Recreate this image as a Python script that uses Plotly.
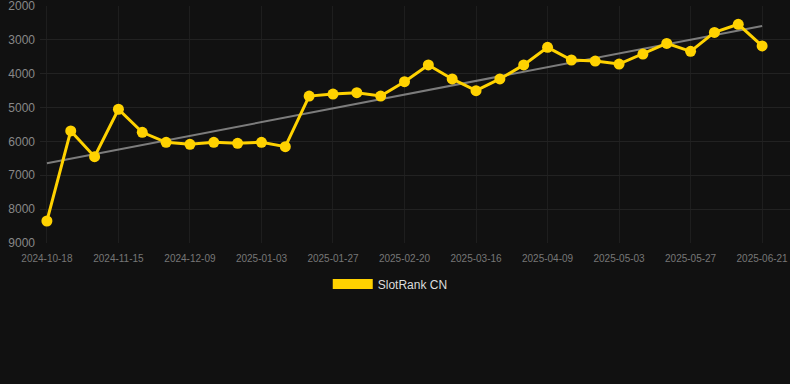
import numpy as np
import plotly.graph_objects as go

dates = ["2024-10-18", "2024-10-27", "2024-11-05", "2024-11-15", "2024-11-23", "2024-12-01",
         "2024-12-09", "2024-12-17", "2024-12-25", "2025-01-03", "2025-01-11", "2025-01-19",
         "2025-01-27", "2025-02-04", "2025-02-12", "2025-02-20", "2025-02-28", "2025-03-08",
         "2025-03-16", "2025-03-24", "2025-04-01", "2025-04-09", "2025-04-17", "2025-04-25",
         "2025-05-03", "2025-05-11", "2025-05-19", "2025-05-27", "2025-06-04", "2025-06-12",
         "2025-06-21"]
rank = [8350, 5690, 6450, 5050, 5730, 6025, 6085, 6025, 6055, 6025, 6155, 4660, 4600, 4560,
        4660, 4235, 3740, 4155, 4500, 4155, 3740, 3220, 3595, 3625, 3715, 3420, 3105, 3340,
        2780, 2540, 3180]
tick_labels = ["2024-10-18", "2024-11-15", "2024-12-09", "2025-01-03", "2025-01-27", "2025-02-20",
               "2025-03-16", "2025-04-09", "2025-05-03", "2025-05-27", "2025-06-21"]
y_ticks = [2000, 3000, 4000, 5000, 6000, 7000, 8000, 9000]

idx = np.arange(len(rank))
coef = np.polyfit(idx, rank, 1)
trend = np.polyval(coef, idx)

YELLOW = "#FFD200"
fig = go.Figure()
fig.add_trace(go.Scatter(x=dates, y=trend, mode="lines",
                         line=dict(color="rgba(160,160,160,0.75)", width=2),
                         showlegend=False, hoverinfo="skip"))
fig.add_trace(go.Scatter(x=dates, y=rank, mode="lines+markers",
                         line=dict(color=YELLOW, width=3),
                         marker=dict(color=YELLOW, size=11),
                         showlegend=False))
fig.add_trace(go.Scatter(x=[None], y=[None], mode="lines", name="SlotRank CN",
                         line=dict(color=YELLOW, width=12)))

fig.update_layout(
    width=790, height=384,
    paper_bgcolor="#111111", plot_bgcolor="#111111",
    margin=dict(l=40, r=0, t=6, b=141, autoexpand=False),
    font=dict(family="Liberation Sans, Arial, sans-serif", color="#888888"),
    showlegend=True,
    legend=dict(orientation="h", x=0.467, xanchor="center",
                y=-0.112, yanchor="top",
                font=dict(size=12, color="#dddddd"), itemwidth=40),
)
fig.update_xaxes(type="category", range=[-0.29, 31.17], automargin=False,
                 tickmode="array", tickvals=[dates[i] for i in range(0, 31, 3)],
                 ticktext=tick_labels, tickfont=dict(size=10, color="#777777"),
                 tickangle=0,
                 showgrid=True, gridcolor="#1e1e1e", zeroline=False, showline=False,
                 ticks="", ticklabelstandoff=8, ticklabeloverflow="allow")
fig.update_yaxes(range=[9000, 2000], tickvals=y_ticks, tickfont=dict(size=12, color="#888888"),
                 automargin=False,
                 showgrid=True, gridcolor="#222222", zeroline=False, showline=False, ticks="",
                 ticklabelstandoff=4, ticklabeloverflow="allow")

fig.write_html("out.html", config={"displayModeBar": False},
               post_script="document.body.style.margin='0';document.body.style.background='#111111';")
